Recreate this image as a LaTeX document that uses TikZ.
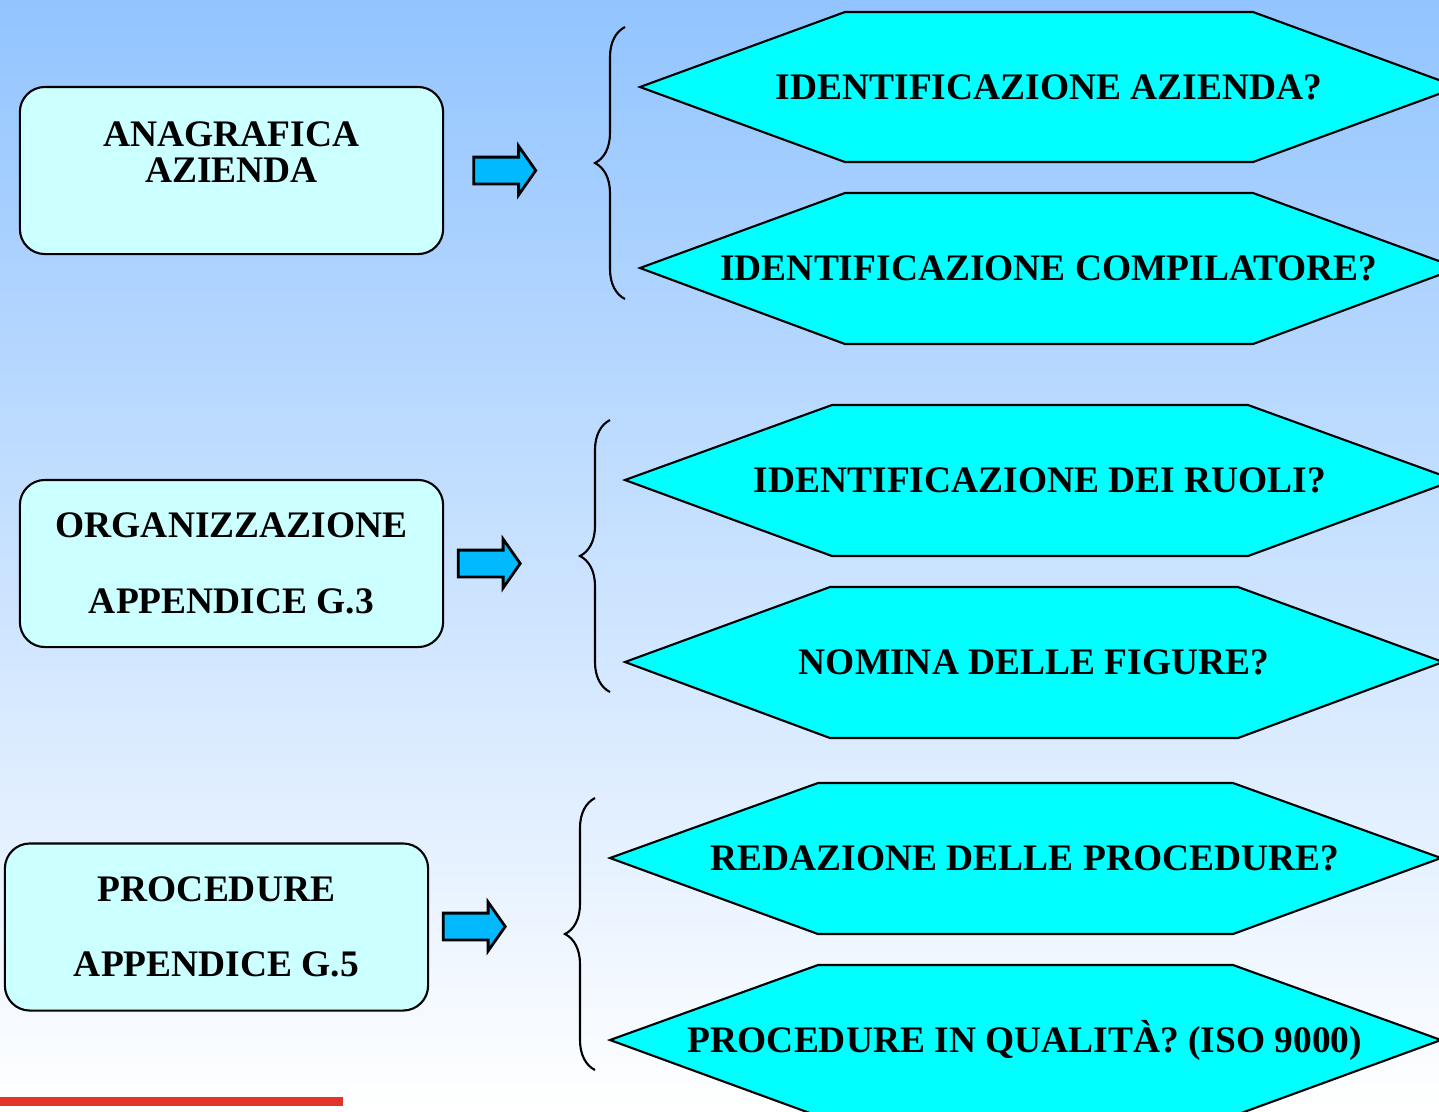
\documentclass[tikz,border=0pt]{standalone}
\usepackage{fontspec}
\setmainfont{Liberation Serif}
\usetikzlibrary{shapes.arrows, decorations.pathreplacing, calc, positioning}

\definecolor{bgtop}{RGB}{146,196,255}
\definecolor{boxcyan}{RGB}{204,255,255}
\definecolor{hexcyan}{RGB}{0,255,255}
\definecolor{arrowblue}{RGB}{0,185,255}
\definecolor{barred}{RGB}{227,52,44}
\newcommand{\qfont}{\fontsize{10.65}{12.6}\selectfont\bfseries}

\begin{document}
\begin{tikzpicture}[
        x=0.01cm, y=-0.01cm,
        qbox/.style={rectangle, draw=black, fill=boxcyan, rounded corners=0.25cm, line width=0.6pt, minimum width=4.23cm, minimum height=1.67cm, align=center, font=\qfont},
        hexa/.style={draw=black, fill=hexcyan, line width=0.6pt},
        qlabel/.style={inner sep=0pt, text height=0.248cm, text depth=0pt, font=\qfont},
        bigarrow/.style={single arrow, draw=black, fill=arrowblue, line width=0.8pt, inner sep=0.12cm, single arrow head extend=0.11cm, single arrow tip angle=110, minimum height=0.62cm},
        curly/.style={decorate, decoration={brace, amplitude=0.3cm}, line width=0.6pt}
    ]
        \useasboundingbox (0,0) rectangle (1439,1111);
        \clip (0,0) rectangle (1439,1111);
        \shade[top color=bgtop, bottom color=white] (0,0) rectangle (1439,1111);
        \fill[barred] (0,1097) rectangle (343,1106);

        % question hexagons
        \draw[hexa] (640,87) -- (845,12) -- (1253,12) -- (1458,87) -- (1253,162) -- (845,162) -- cycle;
        \draw[hexa] (640,268) -- (845,193) -- (1253,193) -- (1458,268) -- (1253,344) -- (845,344) -- cycle;
        \draw[hexa] (625,480) -- (832,405) -- (1248,405) -- (1455,480) -- (1248,556) -- (832,556) -- cycle;
        \draw[hexa] (625,662) -- (830,587) -- (1238,587) -- (1443,662) -- (1238,738) -- (830,738) -- cycle;
        \draw[hexa] (610,858) -- (818,783) -- (1233,783) -- (1441,858) -- (1233,934) -- (818,934) -- cycle;
        \draw[hexa] (610,1040) -- (818,965) -- (1233,965) -- (1441,1040) -- (1233,1116) -- (818,1116) -- cycle;

        \node[qlabel] (idaz) at (1049,87) {IDENTIFICAZIONE AZIENDA?};
        \node[qlabel] (idcomp) at (1049,268) {IDENTIFICAZIONE COMPILATORE?};
        \node[qlabel] (ruoli) at (1040,480) {IDENTIFICAZIONE DEI RUOLI?};
        \node[qlabel] (nomina) at (1034,662) {NOMINA DELLE FIGURE?};
        \node[qlabel] (redaz) at (1025,858) {REDAZIONE DELLE PROCEDURE?};
        \node[qlabel] (qual) at (1025,1040) {PROCEDURE IN QUALITÀ? (ISO 9000)};

        % topic boxes
        \node[qbox] (anag) at (231.5,170.5) {};
        \node[inner sep=0pt, align=center, font={\fontsize{10.65}{10.2}\selectfont\bfseries}] (anagtxt) at (231.5,152) {ANAGRAFICA\\AZIENDA};
        \node[qbox] (org) at (231.5,563.5) {ORGANIZZAZIONE\\[0.31cm]APPENDICE G.3};
        \node[qbox] (proc) at (216.5,927) {PROCEDURE\\[0.31cm]APPENDICE G.5};

        \node[bigarrow] (arr1) at (500,170.5) {};
        \node[bigarrow] (arr2) at (484.5,563.5) {};
        \node[bigarrow] (arr3) at (469.5,926.5) {};

        % braces
        \coordinate (br1top) at (625,27);
        \coordinate (br1bot) at (625,299);
        \coordinate (br2top) at (610,420);
        \coordinate (br2bot) at (610,692);
        \coordinate (br3top) at (595,798);
        \coordinate (br3bot) at (595,1070);
        \draw[curly] (br1bot) -- (br1top);
        \draw[curly] (br2bot) -- (br2top);
        \draw[curly] (br3bot) -- (br3top);
    \end{tikzpicture}
\end{document}
